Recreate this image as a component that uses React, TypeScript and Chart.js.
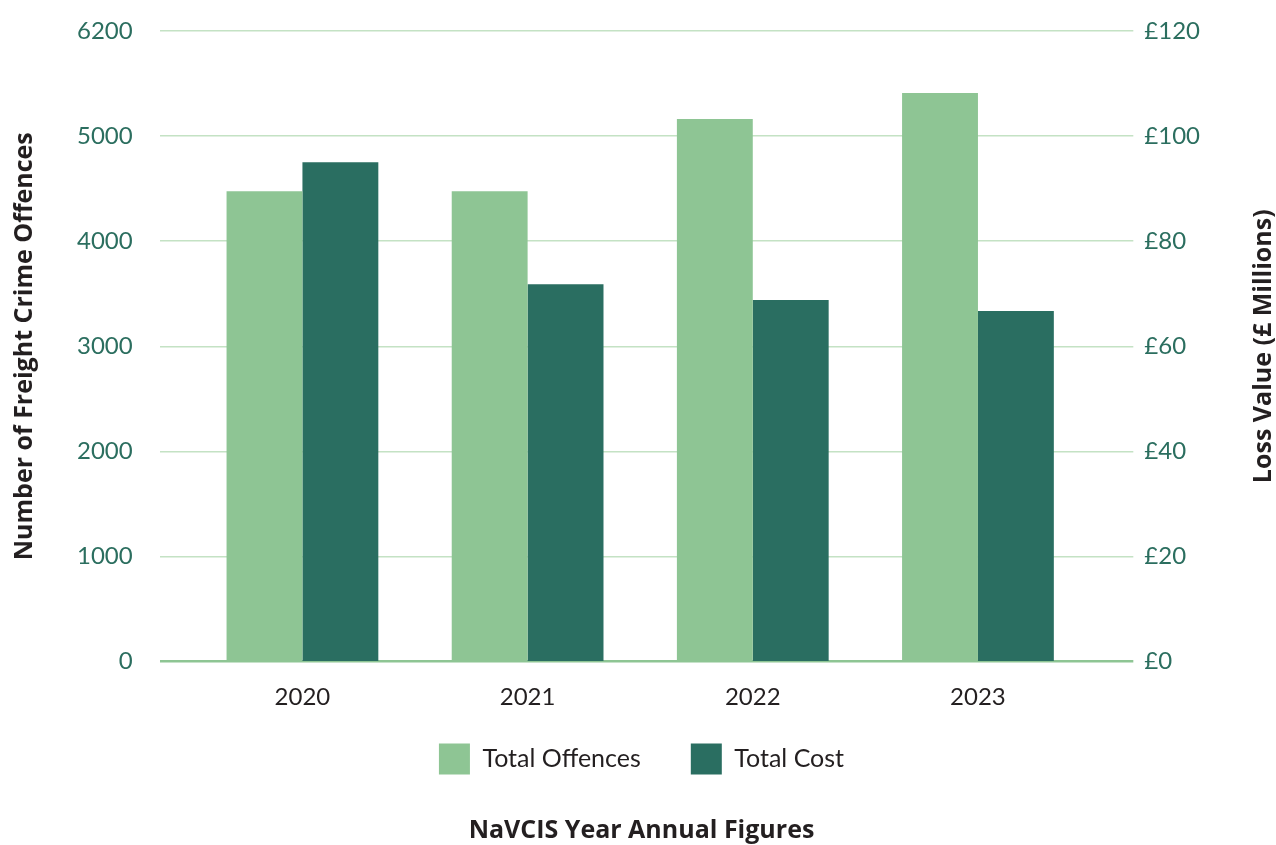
import React, { useEffect, useRef } from 'react';
import { Chart, registerables } from 'chart.js';

Chart.register(...registerables);

const categories = ['2020', '2021', '2022', '2023'];
const totalOffences = [4476, 4476, 5162, 5410];
const totalCostMillions = [95.0, 71.8, 68.8, 66.7];
const leftTickLabels = ['0', '1000', '2000', '3000', '4000', '5000', '6200'];
const rightTickLabels = ['£0', '£20', '£40', '£60', '£80', '£100', '£120'];
const seriesNames = ['Total Offences', 'Total Cost'];
const leftTitle = 'Number of Freight Crime Offences';
const rightTitle = 'Loss Value (£ Millions)';
const bottomTitle = 'NaVCIS Year Annual Figures';

const LIGHT = '#8EC594';
const DARK = '#2A6E61';
const TICK = '#2B6E5F';
const GRID = '#C4E2C4';
const TEXT = '#231F20';
const FONT = 'Lato, "Noto Sans", sans-serif';
const BOLD_FONT = '"Open Sans", Lato, sans-serif';

// Draws the rotated right-axis title (reading bottom-to-top) and the category labels
const extraTextPlugin = {
  id: 'extraText',
  afterDraw(chart: any) {
    const ctx = chart.ctx;
    const s = chart.scales.y1;
    const xs = chart.scales.x;
    ctx.save();
    if (s) {
      ctx.save();
      ctx.font = `bold 25px ${BOLD_FONT}`;
      ctx.fillStyle = TEXT;
      ctx.textAlign = 'center';
      ctx.textBaseline = 'middle';
      ctx.translate(s.right - 12, (s.top + s.bottom) / 2);
      ctx.rotate(-Math.PI / 2);
      ctx.fillText(rightTitle, 0, 0);
      ctx.restore();
    }
    if (xs) {
      ctx.font = `24px ${FONT}`;
      ctx.fillStyle = TEXT;
      ctx.textAlign = 'center';
      ctx.textBaseline = 'middle';
      categories.forEach((c, i) => {
        ctx.fillText(c, xs.getPixelForValue(i), xs.top + 36);
      });
    }
    ctx.restore();
  },
};

export default function App() {
  const ref = useRef<HTMLCanvasElement>(null);
  useEffect(() => {
    document.body.style.margin = '0';
    Chart.defaults.font.family = FONT;
    const chart = new Chart(ref.current as HTMLCanvasElement, {
      type: 'bar',
      data: {
        datasets: [
          {
            label: seriesNames[0],
            data: totalOffences.map((v, i) => ({ x: i, y: v })),
            backgroundColor: LIGHT,
            yAxisID: 'y',
            categoryPercentage: 0.674,
            barPercentage: 1,
          },
          {
            label: seriesNames[1],
            data: totalCostMillions.map((v, i) => ({ x: i, y: v })),
            backgroundColor: DARK,
            yAxisID: 'y1',
            categoryPercentage: 0.674,
            barPercentage: 1,
          },
        ],
      },
      options: {
        animation: false,
        responsive: false,
        layout: { padding: { top: 31, left: 7, right: 0, bottom: 0 } },
        scales: {
          x: {
            type: 'linear',
            offset: false,
            min: -0.634,
            max: 3.69,
            grid: { display: false, drawTicks: false, tickLength: 0 },
            border: { display: false },
            ticks: { display: false },
            afterBuildTicks: (scale: any) => {
              scale.ticks = categories.map((_, i) => ({ value: i }));
            },
            afterFit: (scale: any) => {
              scale.height = 32;
            },
          },
          y: {
            position: 'left',
            min: 0,
            max: 6000,
            ticks: {
              stepSize: 1000,
              padding: 27,
              color: TICK,
              font: { size: 24, lineHeight: 0.3 },
              callback: (_v: any, i: number) => leftTickLabels[i],
            },
            grid: {
              drawTicks: false,
              tickLength: 0,
              color: (c: any) => (c.tick && c.tick.value === 0 ? LIGHT : GRID),
              lineWidth: (c: any) => (c.tick && c.tick.value === 0 ? 2.5 : 1.5),
            },
            border: { display: false },
            title: {
              display: true,
              text: leftTitle,
              color: TEXT,
              font: { size: 25, weight: 'bold', family: BOLD_FONT, lineHeight: 1.2 },
              padding: { top: 3, bottom: 10 },
            },
          },
          y1: {
            position: 'right',
            min: 0,
            max: 120,
            ticks: {
              stepSize: 20,
              padding: 11,
              color: TICK,
              font: { size: 24, lineHeight: 0.3 },
              callback: (_v: any, i: number) => rightTickLabels[i],
            },
            grid: { drawOnChartArea: false, drawTicks: false, tickLength: 0 },
            border: { display: false },
            title: {
              display: true,
              text: rightTitle,
              color: 'rgba(0,0,0,0)',
              font: { size: 24, weight: 'bold', lineHeight: 1, family: BOLD_FONT },
              padding: { top: 0, bottom: 41 },
            },
          },
        },
        plugins: {
          legend: {
            position: 'bottom',
            labels: {
              boxWidth: 31,
              boxHeight: 31,
              padding: 50,
              color: TEXT,
              font: { size: 25 },
            },
          },
          title: {
            display: true,
            position: 'bottom',
            text: bottomTitle,
            color: TEXT,
            font: { size: 25, weight: 'bold', lineHeight: 1.1, family: BOLD_FONT },
            padding: { top: 33, bottom: 0 },
          },
          tooltip: { enabled: false },
        },
      },
      plugins: [extraTextPlugin],
    } as any);
    return () => chart.destroy();
  }, []);
  return (
    <div style={{ width: 1276, height: 845 }}>
      <canvas ref={ref} width={1276} height={845} />
    </div>
  );
}
